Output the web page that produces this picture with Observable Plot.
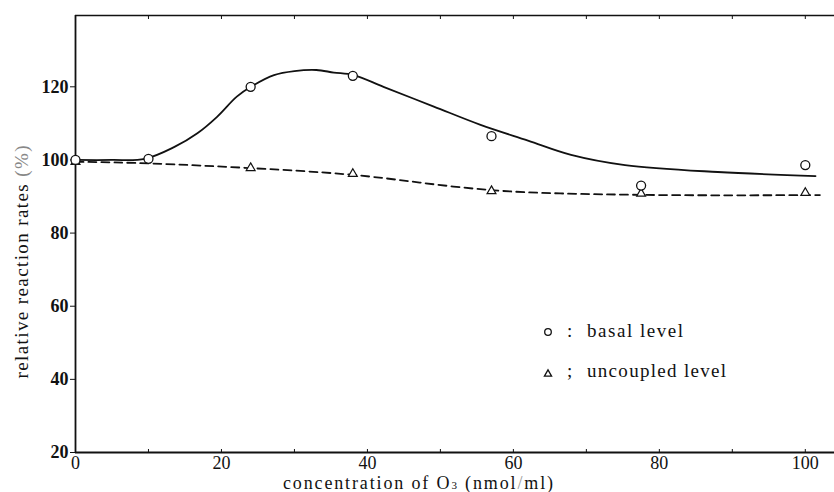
<!DOCTYPE html>
<html><head><meta charset="utf-8">
<script src="https://cdn.jsdelivr.net/npm/d3@7"></script>
<script src="https://cdn.jsdelivr.net/npm/@observablehq/plot@0.6"></script>
<style>
body{margin:0;background:#fff}
#chart{position:relative;width:834px;height:492px}
#chart svg, #chart svg text, #chart svg tspan { font-family: "Times New Roman", "Liberation Serif", Tinos, serif !important; }
</style>
</head><body><div id="chart"></div>
<script>
// Measured points
const concentration = [0, 10, 24, 38, 57, 77.5, 100];
const basalLevel = [100, 100.3, 120, 123, 106.5, 93, 98.6];
const uncoupledConc = [0, 24, 38, 57, 77.5, 100];
const uncoupledLevel = [99.5, 97.8, 96.2, 91.5, 90.8, 91];
// Hand-drawn fitted curves
const basalCurveX = [0, 5, 9.5, 13.5, 16.7, 19.4, 22.1, 24.2, 27.2, 30, 33, 35.4, 38.1, 42.2, 49.1, 55.5, 62, 67.9, 75.3, 88, 101.4];
const basalCurveY = [100, 100, 100.3, 103.5, 107.3, 111.8, 117.3, 120.2, 123.2, 124.3, 124.6, 123.9, 123.2, 120, 114.6, 109.6, 105.3, 101.4, 98.6, 96.7, 95.6];
const uncoupledCurveX = [0, 10, 24, 38, 47, 57, 66, 77.5, 90, 102];
const uncoupledCurveY = [99.5, 99.2, 97.8, 96.2, 93.8, 91.5, 90.8, 90.4, 90.3, 90.4];
// Axes
const xTicks = [0, 20, 40, 60, 80, 100];
const xMinorTicks = [0, 10, 20, 30, 40, 50, 60, 70, 80, 90, 100];
const yTicks = [20, 40, 60, 80, 100, 120];
const xDomain = [0, 104];
const yDomain = [20, 139.5];
const seriesLabels = ["basal level", "uncoupled level"];

const zip = (xs, ys) => xs.map((x, i) => ({x, y: ys[i]}));
const basal = zip(concentration, basalLevel);
const uncoupled = zip(uncoupledConc, uncoupledLevel);
const basalCurve = zip(basalCurveX, basalCurveY);
const uncoupledCurve = zip(uncoupledCurveX, uncoupledCurveY);

const FONT = "'Times New Roman', 'Liberation Serif', serif";

const svg = Plot.plot({
  width: 834, height: 492,
  marginLeft: 75, marginRight: 0, marginTop: 15, marginBottom: 40,
  style: {fontFamily: FONT, color: "#111", background: "#fff"},
  x: {domain: xDomain},
  y: {domain: yDomain},
  marks: [
    Plot.ruleX([xDomain[0]], {stroke: "#111", strokeWidth: 1.8}),
    Plot.ruleY([yDomain[0]], {stroke: "#111", strokeWidth: 2}),
    Plot.ruleY([yDomain[1]], {stroke: "#111", strokeWidth: 1.6}),
    Plot.axisX(xMinorTicks, {anchor: "bottom", tickSize: 3, dy: -3, tickFormat: () => "", label: null}),
    Plot.axisX(xMinorTicks, {anchor: "top", tickSize: 3, dy: 3, tickFormat: () => "", label: null}),
    Plot.axisX(xTicks, {anchor: "bottom", tickSize: 0, tickPadding: 4, fontSize: 18, fontFamily: FONT, label: null}),
    Plot.axisY(yTicks, {anchor: "left", tickSize: 5, tickPadding: 2, fontSize: 18, fontWeight: "bold", fontFamily: FONT, label: null}),
    Plot.line(uncoupledCurve, {x: "x", y: "y", curve: "basis", stroke: "#111", strokeWidth: 1.8, strokeDasharray: "8,5"}),
    Plot.line(basalCurve, {x: "x", y: "y", curve: "catmull-rom", stroke: "#111", strokeWidth: 1.8}),
    Plot.dot(uncoupled, {x: "x", y: "y", symbol: "triangle", r: 3.3, fill: "white", stroke: "#111", strokeWidth: 1.2}),
    Plot.dot(basal, {x: "x", y: "y", r: 4.5, fill: "white", stroke: "#111", strokeWidth: 1.3})
  ]
});
document.getElementById("chart").appendChild(svg);

const s = d3.select(svg);
// Y label
const yl = s.append("text")
  .attr("transform", "translate(28,262) rotate(-90)")
  .attr("text-anchor", "middle").attr("font-family", FONT)
  .attr("font-size", 19).attr("fill", "#111")
  .attr("textLength", 233).attr("lengthAdjust", "spacing");
yl.append("tspan").text("relative reaction rates ");
yl.append("tspan").attr("fill", "#888").text("(%)");
// X label
const xl = s.append("text")
  .attr("x", 418).attr("y", 489)
  .attr("text-anchor", "middle").attr("font-family", FONT)
  .attr("font-size", 18).attr("fill", "#111")
  .attr("textLength", 270).attr("lengthAdjust", "spacing");
xl.append("tspan").text("concentration of O");
xl.append("tspan").attr("font-size", 11).text("3");
xl.append("tspan").text(" (nmol");
xl.append("tspan").attr("fill", "#999").text("/");
xl.append("tspan").text("ml)");
// Legend
const lg = s.append("g").attr("text-anchor", "start").attr("font-family", FONT).attr("font-size", 19).attr("fill", "#111");
lg.append("circle").attr("cx", 548).attr("cy", 332).attr("r", 3.3).attr("fill", "white").attr("stroke", "#111").attr("stroke-width", 1.3);
lg.append("path").attr("d", d3.symbol(d3.symbolTriangle, 22)()).attr("transform", "translate(548,374)").attr("fill", "white").attr("stroke", "#111").attr("stroke-width", 1.3);
lg.append("text").attr("x", 567).attr("y", 337).text(":");
lg.append("text").attr("x", 567).attr("y", 377).text(";");
lg.append("text").attr("x", 587).attr("y", 337).attr("textLength", 96).attr("lengthAdjust", "spacing").text(seriesLabels[0]);
lg.append("text").attr("x", 587).attr("y", 377).attr("textLength", 139).attr("lengthAdjust", "spacing").text(seriesLabels[1]);
</script>
</body></html>
